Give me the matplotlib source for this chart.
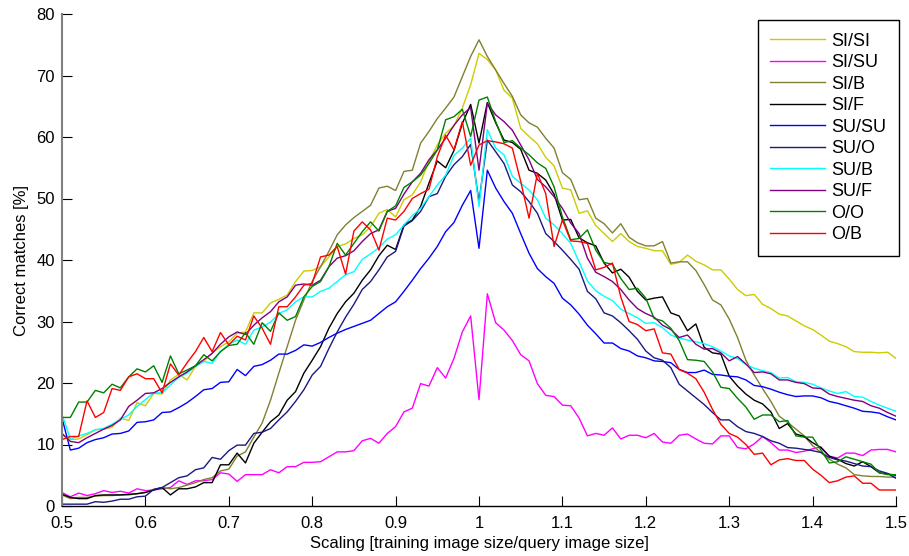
import matplotlib
matplotlib.use("Agg")
import matplotlib.pyplot as plt
import numpy as np

plt.rcParams['font.family'] = ['Liberation Sans', 'DejaVu Sans']

# scaling factor (x axis), 0.5 .. 1.5 in steps of 0.01
scaling = np.round(np.arange(50, 151) / 100.0, 2)

si_si = [11.5, 10.8, 10.9, 11.6, 12.4, 12.5, 12.8, 14.3, 13.9, 16.8,
         16.3, 18.3, 18.2, 20.5, 21.4, 20.5, 22.7, 23.5, 24.9, 25.9,
         26.7, 28.1, 28.3, 31.4, 31.4, 33.0, 33.6, 34.3, 36.5, 38.2,
         38.3, 38.9, 40.5, 42.2, 42.6, 43.5, 44.1, 45.4, 47.6, 48.2,
         47.0, 49.8, 50.6, 52.7, 56.0, 58.7, 60.6, 61.8, 64.7, 68.5,
         73.6, 72.6, 70.9, 67.6, 66.3, 61.4, 60.1, 58.9, 56.7, 55.3,
         51.7, 51.4, 47.6, 48.0, 45.6, 44.3, 43.0, 44.3, 43.0, 42.2,
         41.9, 41.5, 41.5, 39.3, 39.6, 40.8, 39.8, 39.2, 38.4, 38.4,
         36.9, 35.2, 34.2, 34.4, 32.8, 32.1, 31.2, 30.9, 30.1, 29.3,
         28.7, 27.8, 26.8, 26.4, 25.9, 25.1, 25.0, 25.0, 24.9, 25.0,
         24.0]

si_su = [2.2, 1.5, 2.1, 1.7, 2.0, 2.5, 2.2, 2.4, 2.1, 2.8,
         2.5, 2.6, 2.8, 3.0, 4.1, 3.5, 4.1, 4.1, 4.3, 5.4,
         5.2, 4.0, 5.1, 5.1, 5.1, 5.9, 5.4, 6.4, 6.4, 7.1,
         7.1, 7.2, 8.0, 8.8, 8.8, 9.0, 10.6, 11.0, 10.2, 11.8,
         12.9, 15.3, 15.9, 19.9, 19.5, 22.5, 20.8, 24.0, 28.3, 30.9,
         17.3, 34.5, 29.8, 28.6, 26.9, 24.6, 23.6, 19.9, 18.0, 17.8,
         16.4, 16.3, 14.3, 11.4, 11.8, 11.5, 12.7, 10.9, 11.5, 11.5,
         11.1, 11.8, 10.4, 10.2, 11.5, 11.7, 10.9, 10.2, 10.1, 11.4,
         11.4, 9.5, 9.3, 10.1, 11.3, 10.3, 9.1, 9.1, 8.7, 8.9,
         9.3, 9.6, 8.1, 7.8, 8.6, 8.6, 8.2, 9.1, 9.2, 9.2,
         8.8]

si_b = [1.8, 1.2, 1.4, 1.4, 1.6, 1.7, 1.7, 1.8, 1.8, 2.0,
        2.2, 2.7, 3.0, 2.8, 3.0, 3.4, 3.8, 4.3, 4.6, 5.7,
        6.0, 8.1, 8.8, 11.2, 13.5, 17.2, 21.6, 25.9, 30.2, 33.5,
        36.5, 38.9, 41.4, 44.1, 45.7, 46.9, 47.9, 48.9, 51.7, 52.0,
        51.3, 54.4, 54.6, 59.0, 60.9, 63.0, 64.7, 66.5, 69.8, 73.1,
        75.8, 73.1, 70.9, 68.7, 66.6, 63.6, 62.3, 61.6, 59.8, 58.2,
        54.2, 53.1, 49.8, 50.0, 46.8, 45.9, 44.4, 45.9, 43.7, 42.8,
        42.3, 42.3, 43.0, 39.5, 39.7, 39.7, 38.3, 36.0, 33.5, 32.7,
        30.4, 27.4, 23.7, 21.3, 19.1, 17.0, 14.6, 13.6, 12.5, 11.4,
        9.8, 8.7, 7.6, 6.8, 6.2, 5.1, 4.9, 4.8, 4.8, 4.7,
        4.7]

si_f = [1.9, 1.4, 1.2, 1.2, 1.7, 1.8, 1.8, 1.8, 1.9, 2.0,
        2.2, 2.6, 3.0, 1.8, 2.8, 2.8, 3.1, 3.8, 3.8, 6.7,
        6.7, 8.6, 7.0, 10.2, 12.0, 13.7, 14.8, 17.2, 18.6, 21.6,
        23.7, 25.9, 28.9, 31.3, 33.2, 34.6, 36.7, 38.4, 40.7, 42.4,
        41.7, 45.7, 46.5, 48.7, 52.5, 56.1, 55.0, 57.8, 62.2, 65.3,
        59.0, 65.6, 62.3, 59.5, 59.1, 58.0, 54.6, 54.1, 53.0, 50.7,
        46.5, 46.6, 43.6, 42.8, 42.3, 39.5, 37.9, 38.5, 37.2, 34.9,
        33.5, 33.8, 34.0, 31.4, 30.9, 28.5, 29.6, 25.8, 24.9, 24.7,
        21.1, 19.5, 18.2, 17.2, 16.6, 15.3, 12.6, 13.4, 11.7, 11.3,
        10.3, 9.5, 8.1, 7.6, 6.9, 6.5, 7.2, 6.4, 5.4, 5.2,
        5.0]

su_su = [14.3, 9.1, 9.4, 10.3, 10.8, 11.1, 11.7, 11.8, 12.2, 13.6,
         13.7, 14.0, 15.2, 15.3, 16.0, 16.8, 17.8, 18.9, 19.1, 20.1,
         20.2, 22.2, 21.2, 22.7, 23.0, 23.7, 24.7, 24.7, 25.3, 26.2,
         26.0, 26.6, 27.4, 28.1, 28.7, 29.2, 29.7, 30.2, 31.3, 32.4,
         33.2, 34.9, 36.7, 38.6, 40.3, 42.2, 44.6, 46.1, 48.9, 51.3,
         41.9, 54.6, 51.7, 49.5, 47.6, 44.3, 41.1, 38.6, 37.3, 36.2,
         33.8, 32.7, 31.2, 29.4, 28.0, 26.5, 26.5, 25.6, 25.2, 24.4,
         24.1, 23.6, 23.5, 23.3, 22.2, 21.7, 21.7, 22.1, 21.4, 21.3,
         21.1, 21.0, 20.5, 19.6, 19.4, 19.0, 18.5, 18.1, 17.8, 17.9,
         17.9, 17.6, 17.0, 16.7, 16.3, 15.9, 15.4, 15.3, 15.1, 14.5,
         14.0]

su_o = [0.3, 0.3, 0.3, 0.3, 0.7, 0.6, 0.8, 1.1, 1.1, 1.5,
        1.6, 2.7, 3.0, 3.8, 4.6, 4.9, 5.9, 6.2, 7.9, 7.6,
        9.0, 9.9, 9.9, 11.8, 12.0, 12.6, 14.0, 15.3, 17.0, 18.9,
        21.3, 22.7, 25.6, 28.3, 30.7, 32.8, 35.2, 36.5, 38.4, 40.5,
        41.4, 45.5, 46.4, 47.9, 50.3, 50.8, 53.6, 55.5, 56.8, 58.8,
        49.5, 59.5, 57.6, 55.7, 52.2, 51.1, 49.5, 47.6, 44.3, 43.0,
        41.6, 40.1, 38.5, 34.9, 33.7, 31.4, 30.9, 29.8, 28.5, 27.1,
        25.2, 24.1, 23.7, 22.5, 19.8, 18.7, 17.6, 16.5, 15.2, 14.0,
        14.0, 12.9, 12.1, 11.8, 11.3, 10.6, 10.2, 9.5, 9.4, 9.2,
        9.0, 8.7, 7.9, 7.5, 7.3, 6.9, 6.5, 6.4, 5.7, 5.3,
        4.5]

su_b = [14.9, 10.9, 11.4, 11.8, 12.4, 12.6, 13.3, 14.1, 14.8, 16.2,
        17.3, 18.4, 18.4, 19.7, 20.9, 21.6, 22.7, 23.5, 23.2, 25.1,
        26.3, 27.0, 26.3, 28.6, 29.1, 29.9, 31.3, 31.9, 33.2, 34.0,
        34.0, 34.9, 35.4, 36.5, 37.6, 38.1, 40.1, 41.0, 42.0, 43.4,
        44.1, 45.7, 47.2, 48.4, 50.3, 52.2, 53.8, 57.0, 58.2, 59.8,
        48.7, 61.2, 58.2, 57.1, 53.6, 52.5, 51.4, 49.8, 46.8, 45.7,
        44.3, 42.7, 39.7, 36.6, 35.0, 34.1, 33.4, 32.0, 31.3, 30.6,
        29.7, 29.8, 29.0, 27.8, 27.3, 27.0, 26.7, 26.4, 25.9, 25.2,
        24.4, 24.0, 23.0, 22.4, 22.0, 21.7, 20.8, 20.9, 20.2, 20.1,
        19.8, 19.2, 18.7, 18.3, 18.6, 17.8, 17.7, 17.0, 16.4, 15.9,
        15.4]

su_f = [11.8, 10.5, 10.3, 11.1, 11.8, 12.5, 13.1, 14.0, 16.2, 17.2,
        18.3, 18.4, 19.1, 20.1, 21.0, 21.8, 22.8, 23.8, 24.8, 26.3,
        27.5, 28.3, 27.9, 29.4, 30.6, 31.6, 33.2, 34.0, 35.9, 36.1,
        35.9, 36.7, 38.9, 40.3, 40.7, 41.5, 43.0, 44.3, 44.9, 47.9,
        48.4, 50.7, 52.7, 54.1, 56.3, 57.9, 59.8, 61.9, 63.6, 64.8,
        54.6, 65.5, 63.6, 62.5, 61.1, 58.7, 56.3, 53.1, 51.9, 50.3,
        48.4, 46.0, 44.3, 40.3, 38.0, 37.3, 36.5, 35.2, 33.5, 32.1,
        31.3, 30.7, 29.4, 28.7, 27.4, 27.8, 26.3, 25.5, 25.6, 24.9,
        23.6, 24.3, 23.1, 21.7, 21.8, 21.5, 20.5, 20.5, 20.1, 19.9,
        19.2, 19.1, 18.2, 17.8, 17.5, 17.2, 17.0, 16.3, 15.9, 15.2,
        14.6]

o_o = [14.4, 14.4, 16.9, 16.9, 18.8, 18.4, 19.8, 19.2, 21.0, 22.3,
       21.8, 22.8, 20.1, 24.4, 21.5, 22.1, 22.8, 24.6, 23.6, 25.1,
       26.1, 26.3, 28.2, 26.3, 29.8, 28.4, 31.4, 30.2, 30.8, 34.0,
       35.7, 36.5, 38.9, 42.7, 40.8, 42.7, 44.6, 46.2, 44.7, 47.9,
       48.8, 51.8, 52.7, 53.8, 55.7, 57.9, 62.8, 63.3, 64.5, 60.1,
       66.0, 66.5, 62.5, 59.1, 59.4, 58.2, 57.1, 55.8, 54.9, 51.9,
       47.0, 43.3, 43.5, 44.9, 41.6, 39.6, 39.3, 37.0, 35.2, 35.4,
       33.8, 30.5, 30.1, 28.9, 26.9, 23.8, 23.7, 23.5, 21.8, 19.3,
       19.1, 17.5, 16.1, 14.1, 14.8, 14.8, 13.7, 13.9, 11.4, 11.2,
       11.2, 9.1, 7.0, 7.2, 8.0, 7.6, 7.2, 6.8, 5.4, 5.1,
       5.1]

o_b = [10.8, 11.3, 11.3, 17.1, 14.4, 15.2, 19.1, 18.8, 21.0, 21.5,
       20.7, 20.7, 18.4, 23.1, 21.3, 23.3, 25.1, 27.4, 25.1, 28.2,
       26.2, 27.6, 27.0, 30.9, 28.9, 26.3, 32.4, 32.4, 34.0, 35.9,
       36.2, 40.5, 40.8, 42.2, 37.7, 44.7, 46.2, 44.9, 41.6, 46.8,
       46.5, 47.9, 50.0, 50.8, 51.5, 56.8, 60.3, 57.9, 62.5, 55.4,
       58.7, 59.4, 59.2, 58.9, 58.2, 52.8, 46.8, 54.1, 50.8, 42.2,
       46.5, 43.1, 43.0, 42.7, 38.4, 38.8, 39.5, 34.0, 30.0, 29.5,
       28.5, 28.8, 24.9, 24.7, 22.2, 21.6, 20.7, 18.5, 15.7, 13.3,
       11.8, 11.2, 10.0, 8.4, 8.6, 6.7, 7.5, 7.7, 7.4, 7.4,
       6.0, 5.0, 3.8, 4.1, 4.7, 4.9, 3.7, 3.7, 2.6, 2.6,
       2.6]

labels = ['SI/SI', 'SI/SU', 'SI/B', 'SI/F', 'SU/SU', 'SU/O', 'SU/B', 'SU/F', 'O/O', 'O/B']
series = [si_si, si_su, si_b, si_f, su_su, su_o, su_b, su_f, o_o, o_b]
colors = ['#cccc00', '#ff00ff', '#808033', '#000000', '#0000ff',
          '#1a1a80', '#00ffff', '#800080', '#008000', '#ff0000']

fig = plt.figure(figsize=(9.09, 5.56), dpi=100)
ax = fig.add_axes([62 / 909, 50 / 556, 834 / 909, 492 / 556])

for vals, lab, col in zip(series, labels, colors):
    ax.plot(scaling, vals, color=col, linewidth=1.0, label=lab)

ax.set_xlim(0.5, 1.5)
ax.set_ylim(0, 80)
ax.set_xticks(np.arange(0.5, 1.51, 0.1))
ax.set_xticklabels(['0.5', '0.6', '0.7', '0.8', '0.9', '1', '1.1', '1.2', '1.3', '1.4', '1.5'])
ax.set_yticks(range(0, 81, 10))
ax.tick_params(direction='in', length=7, width=0.8, labelsize=12)
ax.tick_params(axis='x', pad=7.5)
ax.tick_params(axis='y', pad=5)
ax.spines['top'].set_visible(False)
ax.spines['right'].set_visible(False)
ax.spines['left'].set_linewidth(1.5)
ax.spines['left'].set_color('#808080')
ax.spines['bottom'].set_linewidth(1.0)

ax.set_xlabel('Scaling [training image size/query image size]', fontsize=12, labelpad=3)
ax.set_ylabel('Correct matches [%]', fontsize=12, labelpad=5)

leg = ax.legend(loc='upper right', bbox_to_anchor=(1.003, 0.988), fontsize=13,
                frameon=True, fancybox=False, edgecolor='black', framealpha=1,
                handlelength=3.0, handletextpad=0.35, labelspacing=0.25,
                borderpad=0.7, borderaxespad=0)
leg.get_frame().set_linewidth(1.0)

fig.savefig('out.png', dpi=100)
